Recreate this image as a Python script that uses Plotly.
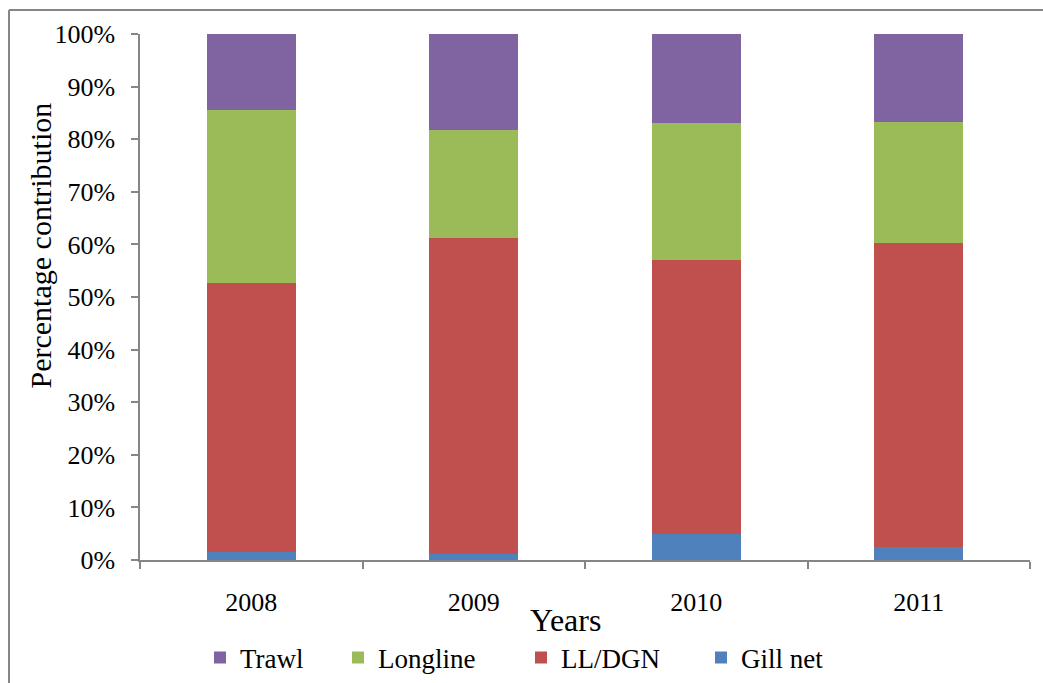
import plotly.graph_objects as go

years = ["2008", "2009", "2010", "2011"]
gill_net = [1.5, 1.2, 4.9, 2.4]
ll_dgn = [51.2, 60.1, 52.2, 57.8]
longline = [32.8, 20.5, 26.0, 23.0]
trawl = [14.5, 18.2, 16.9, 16.8]

series = [
    ("Gill net", gill_net, "#4F81BD", "legend4"),
    ("LL/DGN", ll_dgn, "#C0504D", "legend3"),
    ("Longline", longline, "#9BBB59", "legend2"),
    ("Trawl", trawl, "#8064A2", "legend"),
]

FONT = "Liberation Serif, Times New Roman, serif"
W, H = 1043, 683
L, R, T, B = 140, 13, 34, 123
PW, PH = W - L - R, H - T - B


def px_x(px):
    return (px - L) / PW


def px_y(py):
    return (H - B - py) / PH


def cx(px):
    return px / W


def cy(py):
    return 1 - py / H


fig = go.Figure()
for name, vals, color, leg in series:
    fig.add_trace(go.Bar(
        x=years, y=vals, name=name, legend=leg,
        marker=dict(color=color, line=dict(width=0)),
    ))

leg_common = dict(orientation="h", yanchor="middle", xanchor="left",
                  xref="container", yref="container",
                  font=dict(family=FONT, size=27, color="#000000"),
                  bgcolor="rgba(0,0,0,0)", borderwidth=0)
leg_x = {"legend": 200, "legend2": 338, "legend3": 521, "legend4": 701}

fig.update_layout(
    width=W, height=H,
    margin=dict(l=L, r=R, t=T, b=B, autoexpand=False),
    paper_bgcolor="white", plot_bgcolor="white",
    barmode="stack", bargap=0.6,
    font=dict(family=FONT, size=26, color="#000000"),
    showlegend=True,
    legend=dict(x=cx(leg_x["legend"]), y=cy(658), **leg_common),
    legend2=dict(x=cx(leg_x["legend2"]), y=cy(658), **leg_common),
    legend3=dict(x=cx(leg_x["legend3"]), y=cy(658), **leg_common),
    legend4=dict(x=cx(leg_x["legend4"]), y=cy(658), **leg_common),
    xaxis=dict(
        type="category", showline=True, linecolor="#868686", linewidth=1.5,
        ticks="outside", tickson="boundaries", ticklen=7, tickcolor="#868686",
        tickwidth=1.5, showgrid=False, zeroline=False, automargin=False,
        tickfont=dict(family=FONT, size=26, color="#000000"),
        ticklabelstandoff=18,
    ),
    yaxis=dict(
        range=[0, 100], dtick=10, ticksuffix="%", showline=True,
        linecolor="#868686", linewidth=1.5, ticks="outside", ticklen=7,
        tickcolor="#868686", tickwidth=1.5, showgrid=False, zeroline=False,
        automargin=False,
        tickfont=dict(family=FONT, size=26, color="#000000"),
        ticklabelstandoff=11,
    ),
    annotations=[
        dict(text="Percentage contribution", x=px_x(39.5), y=px_y(246),
             xref="paper", yref="paper", textangle=-90, showarrow=False,
             xanchor="center", yanchor="middle",
             font=dict(family=FONT, size=30, color="#000000")),
        dict(text="Years", x=px_x(565), y=px_y(620),
             xref="paper", yref="paper", showarrow=False,
             xanchor="center", yanchor="middle",
             font=dict(family=FONT, size=32, color="#000000")),
    ],
    shapes=[
        dict(type="line", xref="paper", yref="paper",
             x0=px_x(9), x1=px_x(W + 20), y0=px_y(10), y1=px_y(10),
             line=dict(color="#868686", width=2)),
        dict(type="line", xref="paper", yref="paper",
             x0=px_x(9), x1=px_x(9), y0=px_y(10), y1=px_y(H + 20),
             line=dict(color="#868686", width=2)),
    ],
)

fig.write_html("out.html")
